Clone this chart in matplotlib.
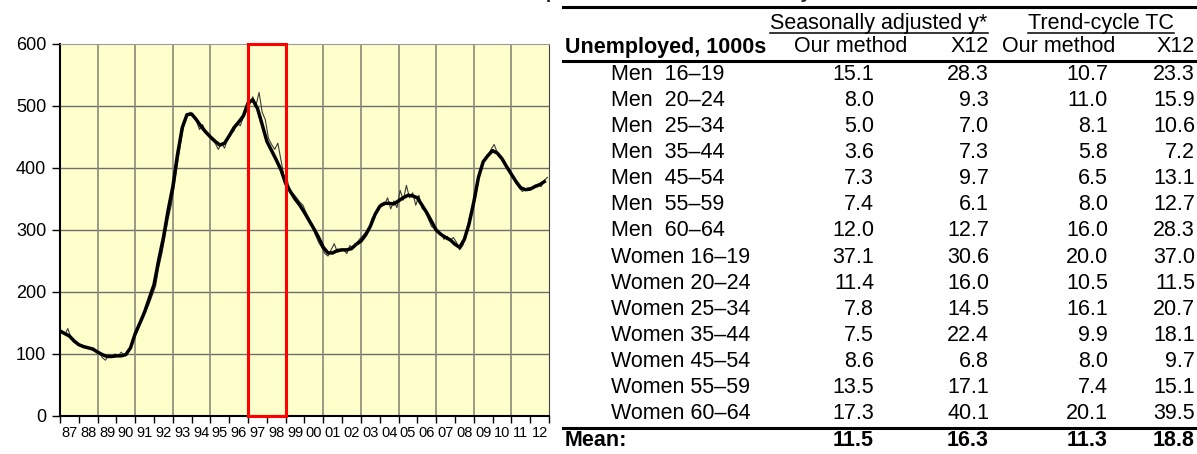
import numpy as np
import matplotlib
matplotlib.use('Agg')
import matplotlib.pyplot as plt
from matplotlib.patches import Rectangle

# Trend-cycle, quarterly from 1987 Q1 (1000s)
trend = [137, 133, 129, 121,
         115, 112, 110, 108,
         103, 99, 96, 96,
         97, 97, 99, 110,
         133, 150, 168, 190,
         212, 252, 288, 332,
         370, 422, 465, 486,
         487, 478, 467, 458,
         450, 443, 437, 440,
         452, 465, 474, 484,
         505, 510, 496, 470,
         443, 428, 413, 397,
         375, 362, 350, 340,
         328, 315, 302, 288,
         272, 263, 263, 267,
         268, 268, 270, 277,
         282, 292, 306, 325,
         338, 343, 343, 342,
         347, 352, 356, 355,
         352, 340, 328, 314,
         300, 293, 288, 284,
         277, 272, 285, 310,
         345, 385, 410, 420,
         428, 424, 415, 402,
         390, 378, 368, 365,
         366, 370, 373, 378]

# Seasonally adjusted series, every second month from 1987
sa = [138, 131, 141, 126, 119, 117,
      114, 110, 111, 108, 106, 104,
      104, 94, 90, 99, 95, 100,
      96, 103, 98, 100, 112, 125,
      134, 148, 158, 170, 182, 196,
      210, 240, 262, 290, 318, 340,
      372, 408, 440, 470, 484, 490,
      486, 476, 462, 470, 458, 452,
      446, 440, 430, 440, 432, 448,
      455, 460, 472, 468, 482, 492,
      502, 515, 500, 522, 490, 478,
      448, 438, 430, 440, 412, 385,
      380, 362, 358, 352, 345, 340,
      328, 318, 306, 292, 280, 272,
      262, 258, 268, 278, 264, 266,
      268, 262, 275, 270, 278, 285,
      290, 296, 300, 318, 325, 336,
      343, 340, 352, 334, 347, 336,
      364, 348, 372, 352, 360, 340,
      356, 335, 330, 318, 306, 302,
      297, 295, 285, 290, 283, 288,
      280, 268, 275, 290, 318, 335,
      350, 382, 405, 415, 420, 430,
      438, 425, 418, 410, 402, 392,
      385, 375, 368, 362, 366, 368,
      368, 372, 374, 370, 380, 385]

years = list(range(1987, 2013))
year_labels = ['%02d' % (y % 100) for y in years]
highlight = (1997, 1999)

groups = ['Men  16\u201319', 'Men  20\u201324', 'Men  25\u201334', 'Men  35\u201344',
          'Men  45\u201354', 'Men  55\u201359', 'Men  60\u201364',
          'Women 16\u201319', 'Women 20\u201324', 'Women 25\u201334', 'Women 35\u201344',
          'Women 45\u201354', 'Women 55\u201359', 'Women 60\u201364']
sa_ours = [15.1, 8.0, 5.0, 3.6, 7.3, 7.4, 12.0, 37.1, 11.4, 7.8, 7.5, 8.6, 13.5, 17.3]
sa_x12 = [28.3, 9.3, 7.0, 7.3, 9.7, 6.1, 12.7, 30.6, 16.0, 14.5, 22.4, 6.8, 17.1, 40.1]
tc_ours = [10.7, 11.0, 8.1, 5.8, 6.5, 8.0, 16.0, 20.0, 10.5, 16.1, 9.9, 8.0, 7.4, 20.1]
tc_x12 = [23.3, 15.9, 10.6, 7.2, 13.1, 12.7, 28.3, 37.0, 11.5, 20.7, 18.1, 9.7, 15.1, 39.5]
means = [11.5, 16.3, 11.3, 18.8]

narrow = ['Liberation Sans Narrow', 'Liberation Sans', 'DejaVu Sans']
plt.rcParams['font.family'] = ['Liberation Sans', 'DejaVu Sans']

W, H = 1197, 454
fig = plt.figure(figsize=(W / 100, H / 100), dpi=100)

# ---- chart ----
ax = fig.add_axes([60 / W, 1 - 416 / H, 489 / W, 372 / H])
ax.set_facecolor('#FFFFCC')
t_trend = 1987 + np.arange(len(trend)) / 4
t_sa = 1987 + (np.arange(len(sa)) + 0.5) / 6
ax.plot(t_sa, sa, color='#3a3a3a', lw=0.8, zorder=3)
ax.plot(t_trend, trend, color='black', lw=2.5, zorder=4)

ax.set_xlim(1987, 2013)
ax.set_ylim(0, 600)
ax.set_yticks(range(0, 601, 100))
ax.set_xticks(years + [2013])
ax.set_xticklabels([])
ax.set_xticks(np.array(years) + 0.5, minor=True)
ax.set_xticklabels(year_labels, minor=True)
ax.tick_params(axis='x', which='major', direction='out', length=5, width=1)
ax.tick_params(axis='x', which='minor', length=0, pad=7, labelsize=10.5)
ax.tick_params(axis='y', direction='out', length=6, width=1, labelsize=13, pad=4)
for lab in ax.get_xticklabels(minor=True) + ax.get_yticklabels():
    lab.set_family(narrow)

ax.grid(False)
for y in range(100, 600, 100):
    ax.axhline(y, color='#6e6e6e', lw=1, zorder=1)
for x in range(1989, 2013, 2):
    ax.axvline(x, color='#8a8a7a', lw=1.2, zorder=1)
for s in ['left', 'bottom']:
    ax.spines[s].set_linewidth(1.5)
ax.spines['top'].set_color('#999999')
ax.spines['right'].set_color('#444444')

ax.add_patch(Rectangle((highlight[0], 0), highlight[1] - highlight[0], 600,
                       fill=False, edgecolor='#FF0000', lw=2.2, zorder=5, clip_on=False))

# ---- clipped title ----
fig.text(2 / W, 1 + 1.5 / H,
         'Chart 6. Mean half absolute revisions of the estimates compared with X12 for sub-analyses',
         fontsize=14, fontweight='bold', va='baseline', ha='left', color='#222222')

# ---- table ----
tx = fig.add_axes([0, 0, 1, 1])
tx.set_xlim(0, W)
tx.set_ylim(H, 0)
tx.axis('off')
tx.patch.set_alpha(0)

fs = 15.5
tx.plot([563, W], [7, 7], color='black', lw=2.2)
for xc, h in [(879, 'Seasonally adjusted y*'), (1101, 'Trend-cycle TC')]:
    t = tx.text(xc, 29, h, ha='center', va='baseline', fontsize=fs)
fig.canvas.draw()
for t in tx.texts:
    bb = t.get_window_extent().transformed(tx.transData.inverted())
    tx.plot([bb.x0, bb.x1], [33, 33], color='black', lw=1.1)

hy = 47
tx.text(565, hy, 'Unemployed, 1000s', ha='left', va='center', fontsize=fs, fontweight='bold')
col_right = [874, 989, 1108, 1195]
head_right = [907, 989, 1115, 1195]
for xr, h in zip(head_right, ['Our method', 'X12', 'Our method', 'X12']):
    tx.text(xr, hy, h, ha='right', va='center', fontsize=fs)
tx.plot([563, W], [61, 61], color='black', lw=2.2)

row0, dy = 74, 26.15
for i, g in enumerate(groups):
    y = row0 + i * dy
    tx.text(611, y, g, ha='left', va='center', fontsize=fs)
    for xr, v in zip(col_right, [sa_ours[i], sa_x12[i], tc_ours[i], tc_x12[i]]):
        tx.text(xr, y, '%.1f' % v, ha='right', va='center', fontsize=fs)

tx.plot([563, W], [428, 428], color='black', lw=2.2)
my = row0 + len(groups) * dy
tx.text(565, my, 'Mean:', ha='left', va='center', fontsize=fs, fontweight='bold')
for xr, v in zip(col_right, means):
    tx.text(xr, my, '%.1f' % v, ha='right', va='center', fontsize=fs, fontweight='bold')

fig.savefig('out.png', dpi=100)
